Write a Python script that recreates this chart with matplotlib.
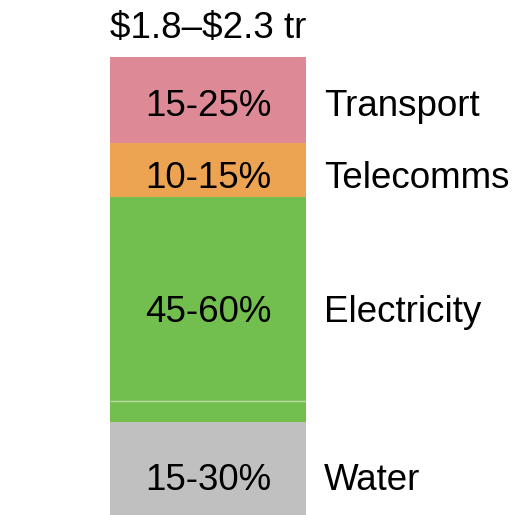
import matplotlib
matplotlib.use("Agg")
import matplotlib.pyplot as plt
import numpy as np

plt.rcParams["font.family"] = ["Liberation Sans", "DejaVu Sans"]

# ── data: share of total infrastructure need (range midpoints) ───────────────
sectors = ["Water", "Electricity", "Electricity", "Telecomms", "Transport"]
shares = [22.5, 5.0, 47.5, 12.5, 20.0]
ranges = ["15-30%", "45-60%", "10-15%", "15-25%"]
names = ["Water", "Electricity", "Telecomms", "Transport"]
colors = ["#C0C0C0", "#72BE4E", "#72BE4E", "#EDA452", "#DE8A96"]
title = "$1.8–$2.3 tr"

# label heights (data units), one per named sector
label_y = [9.0, 48.1, 79.2, 95.9]

fig = plt.figure(figsize=(5.13, 5.15), dpi=100)
ax = fig.add_axes([0, 0, 1, 1])
ax.set_xlim(-1.061, 1.556)
ax.set_ylim(0.93, 120.76)
ax.axis("off")

bottoms = np.concatenate([[0], np.cumsum(shares)[:-1]])
for s, b, c in zip(shares, bottoms, colors):
    ax.bar(0, s, bottom=b, width=1, color=c, linewidth=0)

# faint split line inside the electricity block
ax.hlines(bottoms[2], -0.5, 0.5, color="white", alpha=0.5, linewidth=1)

fs = 26.5
for r, n, y in zip(ranges, names, label_y):
    ax.text(0, y, r, ha="center", va="center", fontsize=fs, color="black")
    ax.text(0.59, y, n, ha="left", va="center", fontsize=fs, color="black")

ax.text(0, sum(shares) + 6.6, title, ha="center", va="center",
        fontsize=fs, color="black", parse_math=False)

fig.savefig("out.png", dpi=100)
